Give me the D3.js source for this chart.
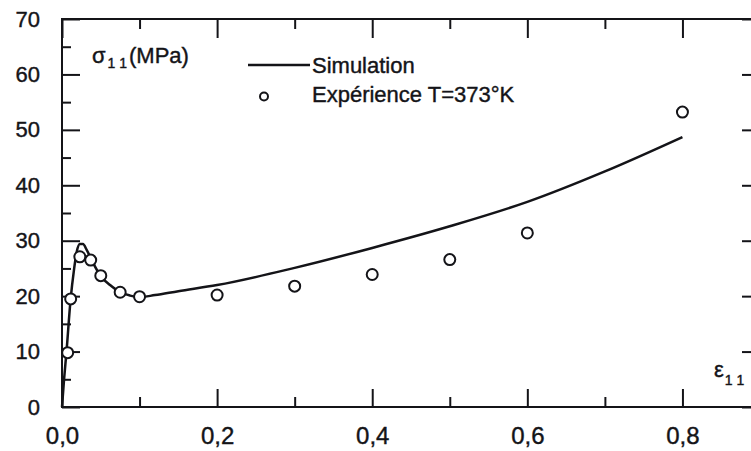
<!DOCTYPE html>
<html>
<head>
<meta charset="utf-8">
<script src="https://cdn.jsdelivr.net/npm/d3@7"></script>
<style>
  html, body { margin: 0; padding: 0; background: #fff; }
  svg { display: block; }
  text { font-family: "Liberation Sans", Arial, sans-serif; fill: #141418; stroke: #141418; stroke-width: 0.4px; }
</style>
</head>
<body>
<svg id="chart" width="751" height="451"></svg>
<script>
// ---- data ----
const simStrain = [0, 0.0026, 0.0058, 0.011, 0.0154, 0.019, 0.023, 0.027, 0.032, 0.039, 0.05, 0.062, 0.075, 0.088, 0.1, 0.12, 0.15, 0.2, 0.3, 0.4, 0.5, 0.6, 0.7, 0.8];
const simStress = [0, 4.9, 10.0, 19.3, 24.7, 28.0, 29.4, 29.4, 28.3, 26.3, 23.6, 22.0, 20.7, 20.1, 19.8, 20.2, 20.9, 22.0, 25.1, 28.7, 32.6, 37.0, 42.5, 48.7];
const expStrain = [0.0073, 0.0112, 0.023, 0.037, 0.05, 0.075, 0.1, 0.2, 0.3, 0.4, 0.5, 0.6, 0.8];
const expStress = [9.8, 19.5, 27.1, 26.5, 23.7, 20.7, 19.9, 20.2, 21.8, 23.9, 26.6, 31.4, 53.2];
const xMajorTicks = [0, 0.2, 0.4, 0.6, 0.8];
const xMinorTicks = [0.1, 0.3, 0.5, 0.7];
const yMajorTicks = [0, 10, 20, 30, 40, 50, 60, 70];
const yMinorTicks = [5, 15, 25, 35, 45, 55, 65];
const legendLabels = ["Simulation", "Expérience T=373°K"];

const ink = "#141418";
const svg = d3.select("#chart");

const x = d3.scaleLinear().domain([0, 0.9]).range([62, 760]);
const y = d3.scaleLinear().domain([0, 70]).range([407, 19]);

const fmtX = v => d3.format(".1f")(v).replace(".", ",");

// frame
svg.append("rect")
  .attr("x", x(0)).attr("y", y(70))
  .attr("width", x(0.9) - x(0)).attr("height", y(0) - y(70))
  .attr("fill", "none").attr("stroke", ink).attr("stroke-width", 2);

function styleAxis(g) {
  g.select(".domain").remove();
  g.selectAll("line").attr("stroke", ink).attr("stroke-width", 2);
}

// bottom axis
svg.append("g").attr("transform", `translate(0,${y(0)})`)
  .call(d3.axisBottom(x).tickValues(xMajorTicks).tickSize(-18).tickPadding(20).tickFormat(fmtX))
  .call(styleAxis)
  .selectAll("text").attr("font-size", 24).style("font-family", "Liberation Sans, Arial, sans-serif").attr("fill", ink);
svg.append("g").attr("transform", `translate(0,${y(0)})`)
  .call(d3.axisBottom(x).tickValues(xMinorTicks).tickSize(-10).tickFormat(""))
  .call(styleAxis);

// top axis
svg.append("g").attr("transform", `translate(0,${y(70)})`)
  .call(d3.axisTop(x).tickValues(xMajorTicks).tickSize(-19).tickFormat(""))
  .call(styleAxis);
svg.append("g").attr("transform", `translate(0,${y(70)})`)
  .call(d3.axisTop(x).tickValues(xMinorTicks).tickSize(-10).tickFormat(""))
  .call(styleAxis);

// left axis
svg.append("g").attr("transform", `translate(${x(0)},0)`)
  .call(d3.axisLeft(y).tickValues(yMajorTicks).tickSize(-18).tickPadding(22).tickFormat(d3.format("d")))
  .call(styleAxis)
  .selectAll("text").attr("font-size", 22).style("font-family", "Liberation Sans, Arial, sans-serif").attr("fill", ink);
svg.append("g").attr("transform", `translate(${x(0)},0)`)
  .call(d3.axisLeft(y).tickValues(yMinorTicks).tickSize(-9).tickFormat(""))
  .call(styleAxis);

// right axis
svg.append("g").attr("transform", `translate(${x(0.9)},0)`)
  .call(d3.axisRight(y).tickValues(yMajorTicks).tickSize(-18).tickFormat(""))
  .call(styleAxis);
svg.append("g").attr("transform", `translate(${x(0.9)},0)`)
  .call(d3.axisRight(y).tickValues(yMinorTicks).tickSize(-9).tickFormat(""))
  .call(styleAxis);

// simulation curve
const simData = simStrain.map((s, i) => [s, simStress[i]]);
svg.append("path")
  .datum(simData)
  .attr("fill", "none").attr("stroke", ink).attr("stroke-width", 2.5)
  .attr("stroke-linejoin", "round")
  .attr("d", d3.line().x(d => x(d[0])).y(d => y(d[1])).curve(d3.curveMonotoneX));

// experiment points
const expData = expStrain.map((s, i) => [s, expStress[i]]);
svg.append("g").selectAll("circle").data(expData).join("circle")
  .attr("cx", d => x(d[0])).attr("cy", d => y(d[1])).attr("r", 5.5)
  .attr("fill", "#fff").attr("stroke", ink).attr("stroke-width", 2);

// y axis title: σ11 (MPa)
const yt = svg.append("text").attr("x", 92).attr("y", 63).attr("font-size", 22);
yt.append("tspan").text("σ");
yt.append("tspan").attr("font-size", 14).attr("dy", 5).attr("dx", 2).text("1 1");
yt.append("tspan").attr("dy", -5).attr("dx", 2).text("(MPa)");

// x axis title: ε11
const xt = svg.append("text").attr("x", 714).attr("y", 377).attr("font-size", 22);
xt.append("tspan").text("ε");
xt.append("tspan").attr("font-size", 14).attr("dy", 8).attr("dx", 1).text("1 1");

// legend
svg.append("line")
  .attr("x1", 248).attr("x2", 310).attr("y1", 65).attr("y2", 65)
  .attr("stroke", ink).attr("stroke-width", 2.5);
svg.append("text").attr("x", 312).attr("y", 73).attr("font-size", 22).text(legendLabels[0]);
svg.append("circle").attr("cx", 264).attr("cy", 96.5).attr("r", 4)
  .attr("fill", "#fff").attr("stroke", ink).attr("stroke-width", 2);
svg.append("text").attr("x", 312).attr("y", 102).attr("font-size", 22).text(legendLabels[1]);
</script>
</body>
</html>
